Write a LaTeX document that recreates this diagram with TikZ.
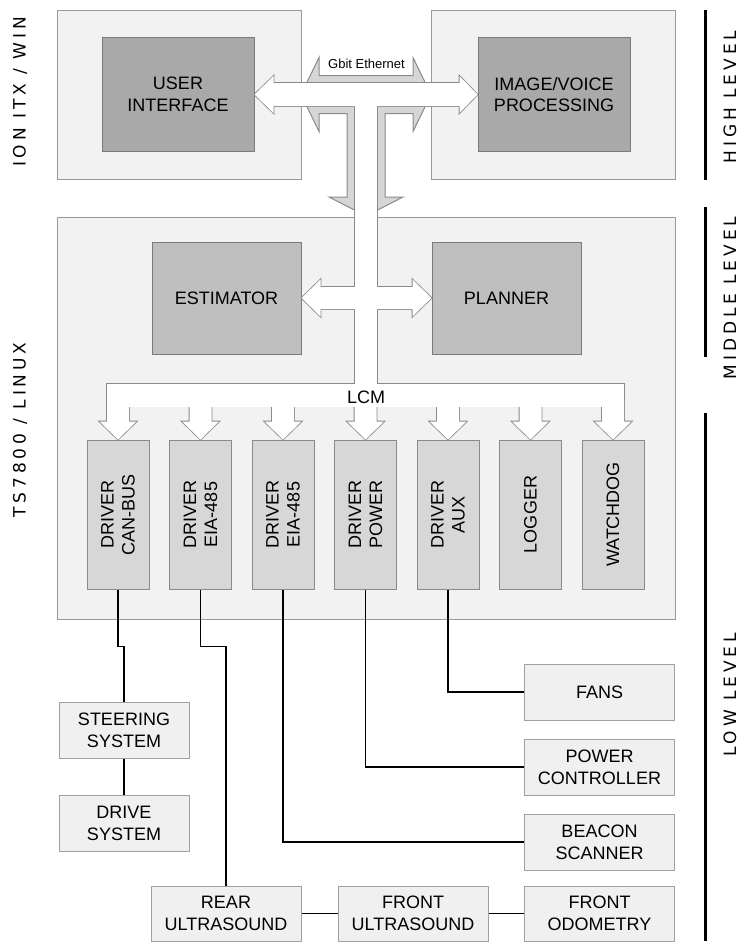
\documentclass[tikz,border=0pt]{standalone}
\usepackage{fontspec}
\setmainfont{Liberation Sans}
\newfontfamily\sidefont[LetterSpace=23]{DejaVu Sans}

\definecolor{fondpanel}{HTML}{F2F2F2}
\definecolor{bordpanel}{HTML}{9A9A9A}
\definecolor{grisfonce}{HTML}{A9A9A9}
\definecolor{grismoyen}{HTML}{BFBFBF}
\definecolor{bordbox}{HTML}{7A7A7A}
\definecolor{fonddrv}{HTML}{D7D7D7}
\definecolor{borddrv}{HTML}{8A8A8A}
\definecolor{fondlow}{HTML}{F0F0F0}
\definecolor{bordlow}{HTML}{A0A0A0}
\definecolor{fondfleche}{HTML}{D6D6D6}
\definecolor{bordfleche}{HTML}{8A8A8A}

\begin{document}
\begin{tikzpicture}[x=1pt, y=-1pt,
    panel/.style={draw=bordpanel, fill=fondpanel, line width=1pt},
    mainbox/.style={draw=bordbox, line width=1pt, inner sep=0pt, align=center,
        minimum height=113pt, font=\fontsize{18}{21.5}\selectfont},
    drvbox/.style={draw=borddrv, fill=fonddrv, line width=1pt, inner sep=0pt, align=center,
        rotate=90, minimum width=149pt, minimum height=62pt, font=\fontsize{18}{21}\selectfont},
    lowbox/.style={draw=bordlow, fill=fondlow, line width=1pt, inner sep=0pt, align=center,
        minimum width=150pt, minimum height=56pt, font=\fontsize{18}{22}\selectfont},
    wire/.style={draw=black, line width=1.3pt},
    grisfleche/.style={draw=bordfleche, fill=fondfleche, line width=1pt},
    passe1/.style={draw=bordfleche, line width=1.6pt},
    passe2/.style={fill=white},
    sidelabel/.style={rotate=90, font=\sidefont\fontsize{17}{20}\selectfont},
    levelbar/.style={line width=3pt}
]
    \useasboundingbox (0,0) rectangle (740,942);

    % Panneaux
    \draw[panel] (57,11) rectangle (301,179); % ION ITX
    \draw[panel] (431,11) rectangle (675,179); % ION ITX
    \draw[panel] (57,217) rectangle (675,619); % TS7800

    % Haut niveau
    \node[mainbox, fill=grisfonce, minimum width=152pt] (ui) at (178,94.5) {USER\\INTERFACE};
    \node[mainbox, fill=grisfonce, minimum width=152pt] (img) at (554,94.5) {IMAGE/VOICE\\PROCESSING};

    % Niveau moyen
    \node[mainbox, fill=grismoyen, minimum width=149pt, minimum height=112pt] (est) at (226.5,298) {ESTIMATOR};
    \node[mainbox, fill=grismoyen, minimum width=149pt, minimum height=112pt] (plan) at (506.5,298) {PLANNER};

    % Drivers
    \foreach \i/\x/\txt in {1/118/{DRIVER\\CAN-BUS}, 2/200.5/{DRIVER\\EIA-485},
        3/283/{DRIVER\\EIA-485}, 4/365.5/{DRIVER\\POWER}, 5/448/{DRIVER\\AUX},
        6/530.5/LOGGER, 7/613/WATCHDOG} {
        \node[drvbox] (d\i) at (\x,514.5) {\txt};
    }

    % Fleche grise (Gbit Ethernet)
    \draw[grisfleche] (301,94.5) -- (319,57.5) -- (319,75.5) -- (413,75.5) -- (413,57.5)
        -- (431,94.5) -- (413,131.5) -- (413,113.5) -- (385,113.5) -- (385,197) -- (403,197)
        -- (366,216) -- (329,197) -- (347,197) -- (347,113.5) -- (319,113.5) -- (319,131.5) -- cycle;

    % Bus blancs : contour puis remplissage
    \foreach \passe in {passe1,passe2} {
        \path[\passe] (ui.east) -- ++(19,-18.5) -- ++(0,7) -- ([shift={(-18,-11.5)}]img.west)
            -- ++(0,-7) -- (img.west) -- ++(-18,18.5) -- ++(0,-7)
            -- ([shift={(19,11.5)}]ui.east) -- ++(0,7) -- cycle;
        \path[\passe] (355,90) rectangle (377,395);
        \path[\passe] (est.east) -- ++(19,-18.5) -- ++(0,7.5) -- ([shift={(-19,-11)}]plan.west)
            -- ++(0,-7.5) -- (plan.west) -- ++(-19,18.5) -- ++(0,-7.5)
            -- ([shift={(19,11)}]est.east) -- ++(0,7.5) -- cycle;
        \path[\passe] ([shift={(-11,-56)}]d1.east) rectangle ([shift={(11,-33)}]d7.east); % LCM
        \foreach \i in {1,...,7} {
            \path[\passe] ([shift={(-11,-40)}]d\i.east) -- ++(0,22) -- ++(-7.5,0) -- (d\i.east)
                -- ++(18.5,-18) -- ++(-7.5,0) -- ++(0,-22) -- cycle;
        }
    }
    \node[font=\fontsize{13}{15}\selectfont, anchor=base] (gbit) at (366.5,68) {Gbit Ethernet};
    \node[font=\fontsize{18}{20}\selectfont, anchor=base] (lcm) at (366,403) {LCM};

    % Bas niveau
    \node[lowbox, minimum width=130pt] (steer) at (124,730) {STEERING\\SYSTEM};
    \node[lowbox, minimum width=130pt] (drive) at (124,823) {DRIVE\\SYSTEM};
    \node[lowbox] (fans) at (599.5,692) {FANS};
    \node[lowbox] (power) at (599.5,767) {POWER\\CONTROLLER};
    \node[lowbox] (beacon) at (599.5,842) {BEACON\\SCANNER};
    \node[lowbox, minimum height=55pt] (rear) at (226,913.5) {REAR\\ULTRASOUND};
    \node[lowbox, minimum height=55pt] (frontus) at (413,913.5) {FRONT\\ULTRASOUND};
    \node[lowbox, minimum height=55pt] (odo) at (599.5,913.5) {FRONT\\ODOMETRY};

    % Liaisons (west = bas des drivers tournes)
    \draw[wire] (d1.west) -- ++(0,57) -| (steer.north);
    \draw[wire] (steer) -- (drive);
    \draw[wire] (d2.west) -- ++(0,57) -| (rear.north);
    \draw[wire] (d3.west) |- (beacon.west);
    \draw[wire] (d4.west) |- (power.west);
    \draw[wire] (d5.west) |- (fans.west);
    \draw[wire] (rear) -- (frontus);
    \draw[wire] (frontus) -- (odo);

    % Legendes laterales
    \node[sidelabel] (ion) at (20,92) {ION ITX / WIN};
    \node[sidelabel] (ts) at (20,430) {TS7800 / LINUX};
    \draw[levelbar] (705,10) -- (705,180);
    \draw[levelbar] (705,207) -- (705,357);
    \draw[levelbar] (705,413) -- (705,941);
    \node[sidelabel] (high) at (730,97) {HIGH LEVEL};
    \node[sidelabel] (middle) at (730,298) {MIDDLE LEVEL};
    \node[sidelabel] (low) at (730,695) {LOW LEVEL};
\end{tikzpicture}
\end{document}
